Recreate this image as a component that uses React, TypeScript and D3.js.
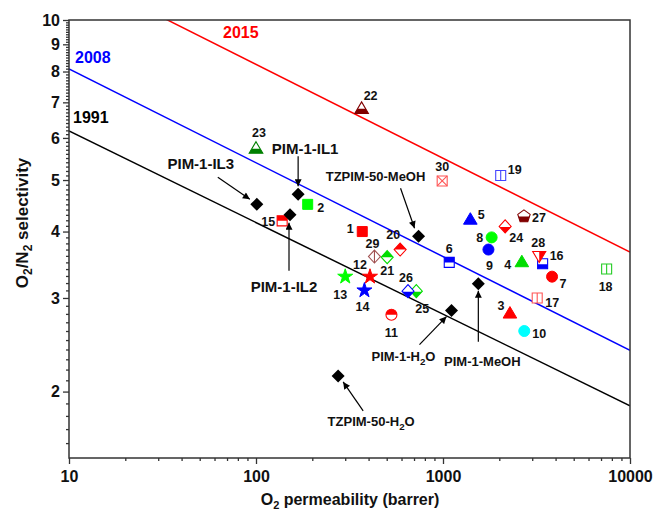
import React, { useEffect, useRef } from 'react'
import * as d3 from 'd3'

const width = 655
const height = 514
const plot = { left: 69, right: 630, top: 20, bottom: 458 }
const font = 'Liberation Sans, Arial, sans-serif'

// numbered literature membranes
const sampleIds = [1, 2, 3, 4, 5, 6, 7, 8, 9, 10, 11, 12, 13, 14, 15, 16, 17, 18, 19, 20, 21, 22, 23, 24, 25, 26, 27, 28, 29, 30]
const samplePerm = [370, 189, 2280, 2640, 1400, 1080, 3830, 1820, 1750, 2720, 530, 407, 300, 380, 138, 3410, 3190, 7500, 2035, 590, 503, 367, 100, 2150, 720, 650, 2710, 3270, 430, 990]
const sampleSel = [4.0, 4.5, 2.81, 3.51, 4.22, 3.5, 3.29, 3.9, 3.7, 2.6, 2.79, 3.29, 3.29, 3.1, 4.19, 3.48, 3.0, 3.4, 5.1, 3.7, 3.58, 6.82, 5.74, 4.09, 3.09, 3.09, 4.28, 3.59, 3.59, 4.98]

// this work (black diamonds)
const pimNames = ['PIM-1-IL1', 'PIM-1-IL2', 'PIM-1-IL3', 'TZPIM-50-MeOH', 'PIM-1-MeOH', 'PIM-1-H2O', 'TZPIM-50-H2O']
const pimPerm = [168, 152, 101, 740, 1545, 1110, 275]
const pimSel = [4.7, 4.3, 4.5, 3.92, 3.19, 2.84, 2.14]

// Robeson-type upper bounds, selectivity = k * P^-n
const boundYears = ['1991', '2008', '2015']
const boundK = [9.2008, 12.148, 18.6]
const boundN = [0.1724, 0.1765, 0.1765]

const xMajor = [10, 100, 1000, 10000]
const yMajor = [2, 3, 4, 5, 6, 7, 8, 9, 10]

// marker look for each sample, same order as sampleIds
// fill: full | top | bottom | right | none ; lx/ly: label offset
const sampleStyle = [
  { shape: 'square', color: '#ff0000', fill: 'full', lx: -12, ly: -3 },
  { shape: 'square', color: '#00ff00', fill: 'full', lx: 13, ly: 3 },
  { shape: 'tri', color: '#ff0000', fill: 'full', lx: -9, ly: -8 },
  { shape: 'tri', color: '#00dd00', fill: 'full', lx: -14, ly: 3 },
  { shape: 'tri', color: '#0000ff', fill: 'full', lx: 11, ly: -5 },
  { shape: 'square', color: '#0000ff', fill: 'top', lx: 0, ly: -14 },
  { shape: 'circle', color: '#ff0000', fill: 'full', lx: 11, ly: 7 },
  { shape: 'circle', color: '#00ff00', fill: 'full', lx: -12, ly: 0 },
  { shape: 'circle', color: '#0000ff', fill: 'full', lx: 1, ly: 16 },
  { shape: 'circle', color: '#00ffff', fill: 'full', lx: 15, ly: 2 },
  { shape: 'circle', color: '#ff0000', fill: 'top', lx: 0, ly: 18 },
  { shape: 'star', color: '#ff0000', fill: 'full', lx: -10, ly: -12 },
  { shape: 'star', color: '#00ff00', fill: 'full', lx: -5, ly: 18 },
  { shape: 'star', color: '#0000ff', fill: 'full', lx: -2, ly: 16 },
  { shape: 'square', color: '#ff0000', fill: 'top', lx: -14, ly: 1 },
  { shape: 'square', color: '#0000ff', fill: 'bottom', lx: 14, ly: -8 },
  { shape: 'split', color: '#ff5555', fill: 'none', lx: 15, ly: 5 },
  { shape: 'split', color: '#22cc22', fill: 'none', lx: -1, ly: 17 },
  { shape: 'split', color: '#4444ff', fill: 'none', lx: 14, ly: -6 },
  { shape: 'diamond', color: '#ff0000', fill: 'top', lx: -7, ly: -15 },
  { shape: 'diamond', color: '#00dd00', fill: 'top', lx: 0, ly: 13 },
  { shape: 'tri', color: '#800000', fill: 'bottom', lx: 9, ly: -13 },
  { shape: 'tri', color: '#008000', fill: 'bottom', lx: 3, ly: -16 },
  { shape: 'diamond', color: '#ff0000', fill: 'bottom', lx: 11, ly: 11 },
  { shape: 'diamond', color: '#00dd00', fill: 'bottom', lx: 6, ly: 17 },
  { shape: 'diamond', color: '#0000ff', fill: 'bottom', lx: -2, ly: -14 },
  { shape: 'pent', color: '#800000', fill: 'bottom', lx: 15, ly: 2 },
  { shape: 'tridown', color: '#ff0000', fill: 'right', lx: -1, ly: -14 },
  { shape: 'vdiamond', color: '#a05050', fill: 'none', lx: -2, ly: -13 },
  { shape: 'xsquare', color: '#ff5555', fill: 'none', lx: 0, ly: -14 },
]

// annotation layout for the black diamonds: text offset, arrow start, arrow tip
const pimNotes = [
  { tx: 7, ty: -46, size: 15, ax: 0, ay: -38, bx: 0, by: -8 },
  { tx: -6, ty: 72, size: 15, ax: -1, ay: 56, bx: -1, by: 8 },
  { tx: -56, ty: -41, size: 15, ax: -39, ay: -27, bx: -7, by: -5 },
  { tx: -43, ty: -60, size: 13, ax: -18, ay: -48, bx: -4, by: -8 },
  { tx: 4, ty: 78, size: 13, ax: 0, ay: 58, bx: 0, by: 7 },
  { tx: -48, ty: 46, size: 13, ax: -32, ay: 34, bx: -5, by: 6 },
  { tx: 33, ty: 45, size: 13, ax: 25, ay: 35, bx: 5, by: 6 },
]

const boundLabel = [
  { x: 73, y: 123, color: '#000000' },
  { x: 75, y: 63, color: '#0000ff' },
  { x: 223, y: 38, color: '#ff0000' },
]

const x = d3.scaleLog().domain([10, 10000]).range([plot.left, plot.right])
const y = d3.scaleLog().domain([1.5, 10]).range([plot.bottom, plot.top])

const xMinor = [10, 100, 1000].flatMap(d => d3.range(2, 10).map(m => m * d))
const yMinor = d3.range(16, 100).filter(v => v % 10 !== 0).map(v => v / 10)

const starPath = d3.symbol(d3.symbolStar, 70)() as string
const circlePath = 'M5.5,0A5.5,5.5 0 1,1 -5.5,0A5.5,5.5 0 1,1 5.5,0Z'
const pentPath = d3.range(5).map(i => {
  const a = -Math.PI / 2 + i * 2 * Math.PI / 5
  return [6.5 * Math.cos(a), 6.5 * Math.sin(a) + 0.5]
}).map((p, i) => (i ? 'L' : 'M') + p[0].toFixed(2) + ',' + p[1].toFixed(2)).join('') + 'Z'

function shapePath(shape: string) {
  switch (shape) {
    case 'square':
    case 'split':
    case 'xsquare':
      return 'M-5,-5H5V5H-5Z'
    case 'diamond':
    case 'vdiamond':
      return 'M0,-6.5L6,0L0,6.5L-6,0Z'
    case 'tri':
      return 'M0,-6.5L6.8,5L-6.8,5Z'
    case 'tridown':
      return 'M0,6L6.5,-5L-6.5,-5Z'
    case 'circle':
      return circlePath
    case 'pent':
      return pentPath
    default:
      return starPath
  }
}

function Marker({ st }: { st: any }) {
  const d = shapePath(st.shape)
  if (st.fill === 'full') {
    return <path d={d} fill={st.color} stroke={st.color} strokeWidth={1} />
  }
  return (
    <g>
      <path d={d} fill="#fff" stroke={st.color} strokeWidth={1.1} />
      {st.fill !== 'none' && <path d={d} fill={st.color} clipPath={`url(#half-${st.fill})`} />}
      {st.shape === 'split' && <line x1={0} x2={0} y1={-5} y2={5} stroke={st.color} strokeWidth={1.1} />}
      {st.shape === 'vdiamond' && <line x1={0} x2={0} y1={-6.5} y2={6.5} stroke={st.color} strokeWidth={1.1} />}
      {st.shape === 'xsquare' && <path d="M-5,-5L5,5M5,-5L-5,5" stroke={st.color} strokeWidth={1.1} />}
    </g>
  )
}

function Name({ text }: { text: string }) {
  const parts = text.split('H2O')
  if (parts.length === 1) return <>{text}</>
  return (
    <>
      {parts[0]}H<tspan dy={4} fontSize="0.75em">2</tspan><tspan dy={-4}>O</tspan>
    </>
  )
}

export default function App() {
  const xMinRef = useRef<SVGGElement>(null)
  const xMajRef = useRef<SVGGElement>(null)
  const yMinRef = useRef<SVGGElement>(null)
  const yMajRef = useRef<SVGGElement>(null)

  useEffect(() => {
    const style = (g: any) => {
      g.select('.domain').remove()
      g.selectAll('line').attr('stroke', '#333').attr('stroke-width', 1.3)
      g.selectAll('text')
        .attr('font-family', font)
        .attr('font-weight', 'bold')
        .attr('font-size', 16)
        .attr('fill', '#111')
    }
    d3.select(xMinRef.current).call(d3.axisBottom(x).tickValues(xMinor).tickSize(3).tickFormat(() => '') as any).call(style)
    d3.select(xMajRef.current).call(d3.axisBottom(x).tickValues(xMajor).tickSize(6).tickPadding(7).tickFormat(d3.format('d')) as any).call(style)
    d3.select(yMinRef.current).call(d3.axisLeft(y).tickValues(yMinor).tickSize(3).tickFormat(() => '') as any).call(style)
    d3.select(yMajRef.current).call(d3.axisLeft(y).tickValues(yMajor).tickSize(6).tickPadding(3).tickFormat(d3.format('d')) as any).call(style)
  }, [])

  const boundLine = d3.line<number>().x(p => x(p)).y((p, ) => 0)

  return (
    <svg width={width} height={height} style={{ position: 'absolute', left: 0, top: 0, background: '#fff' }}
      fontFamily={font}>
      <defs>
        <clipPath id="plotArea">
          <rect x={plot.left} y={plot.top} width={plot.right - plot.left} height={plot.bottom - plot.top} />
        </clipPath>
        <clipPath id="half-top"><rect x={-10} y={-10} width={20} height={10} /></clipPath>
        <clipPath id="half-bottom"><rect x={-10} y={0.5} width={20} height={10} /></clipPath>
        <clipPath id="half-right"><rect x={0} y={-10} width={10} height={20} /></clipPath>
        <marker id="arrow" viewBox="0 0 10 10" refX={10} refY={5} markerWidth={8} markerHeight={7}
          markerUnits="userSpaceOnUse" orient="auto">
          <path d="M0,0L10,5L0,10Z" fill="#000" />
        </marker>
      </defs>

      {/* upper bounds */}
      <g clipPath="url(#plotArea)">
        {boundYears.map((yr, i) => {
          const pts = [10, 10000]
          const d = d3.line<number>().x(p => x(p)).y(p => y(boundK[i] * Math.pow(p, -boundN[i])))(pts)
          return <path key={yr} d={d as string} fill="none" stroke={boundLabel[i].color} strokeWidth={1.5} />
        })}
      </g>
      {boundYears.map((yr, i) => (
        <text key={yr} x={boundLabel[i].x} y={boundLabel[i].y} fill={boundLabel[i].color}
          fontSize={16} fontWeight="bold">{yr}</text>
      ))}

      {/* frame and axes */}
      <rect x={plot.left} y={plot.top} width={plot.right - plot.left} height={plot.bottom - plot.top}
        fill="none" stroke="#333" strokeWidth={1.5} />
      <g ref={xMinRef} transform={`translate(0,${plot.bottom})`} />
      <g ref={xMajRef} transform={`translate(0,${plot.bottom})`} />
      <g ref={yMinRef} transform={`translate(${plot.left},0)`} />
      <g ref={yMajRef} transform={`translate(${plot.left},0)`} />

      <text x={350} y={505} textAnchor="middle" fontSize={16} fontWeight="bold" fill="#111">
        O<tspan dy={4} fontSize={11}>2</tspan><tspan dy={-4}> permeability (barrer)</tspan>
      </text>
      <text transform="translate(28,223) rotate(-90)" textAnchor="middle" fontSize={17} fontWeight="bold" fill="#111">
        O<tspan dy={4} fontSize={12}>2</tspan><tspan dy={-4}>/N</tspan><tspan dy={4} fontSize={12}>2</tspan><tspan dy={-4}> selectivity</tspan>
      </text>

      {/* literature points */}
      {sampleIds.map((id, i) => {
        const st = sampleStyle[i]
        const cx = x(samplePerm[i])
        const cy = y(sampleSel[i])
        return (
          <g key={id}>
            <g transform={`translate(${cx},${cy})`}>
              <Marker st={st} />
            </g>
            <text x={cx + st.lx} y={cy + st.ly} dy="0.36em" textAnchor="middle" fontSize={12.5}
              fontWeight="bold" fill="#111">{id}</text>
          </g>
        )
      })}

      {/* this work */}
      {pimNames.map((name, i) => {
        const cx = x(pimPerm[i])
        const cy = y(pimSel[i])
        const n = pimNotes[i]
        return (
          <g key={name}>
            <line x1={cx + n.ax} y1={cy + n.ay} x2={cx + n.bx} y2={cy + n.by} stroke="#000" strokeWidth={1.2}
              markerEnd="url(#arrow)" />
            <path d="M0,-6.5L6.5,0L0,6.5L-6.5,0Z" transform={`translate(${cx},${cy})`} fill="#000" />
            <text x={cx + n.tx} y={cy + n.ty} dy="0.36em" textAnchor="middle" fontSize={n.size}
              fontWeight="bold" fill="#111"><Name text={name} /></text>
          </g>
        )
      })}
    </svg>
  )
}
